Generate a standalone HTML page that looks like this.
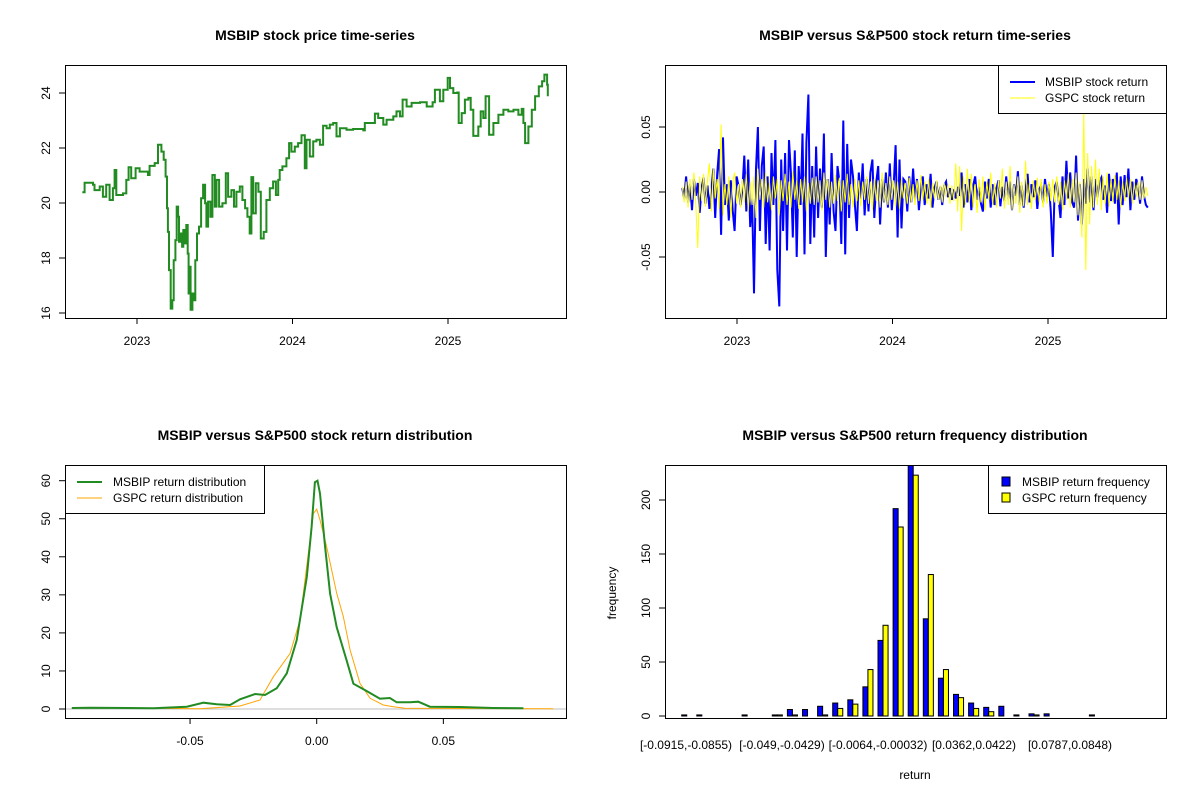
<!DOCTYPE html>
<html><head><meta charset="utf-8"><style>
html,body{margin:0;padding:0;background:#fff;}
svg{display:block;font-family:"Liberation Sans",Arial,sans-serif;}
</style></head><body>
<svg id="chart" width="1200" height="800" viewBox="0 0 1200 800"></svg>
<script>
// ---------- data ----------
const priceDates=[2022.648,2022.663,2022.717,2022.727,2022.760,2022.781,2022.802,2022.824,2022.845,2022.856,2022.867,2022.910,2022.931,2022.946,2022.963,2022.991,2023.017,2023.071,2023.081,2023.114,2023.135,2023.157,2023.172,2023.184,2023.193,2023.199,2023.206,2023.217,2023.227,2023.236,2023.247,2023.255,2023.264,2023.270,2023.279,2023.290,2023.298,2023.309,2023.317,2023.326,2023.332,2023.339,2023.345,2023.356,2023.367,2023.375,2023.386,2023.399,2023.412,2023.425,2023.438,2023.446,2023.457,2023.472,2023.485,2023.500,2023.511,2023.528,2023.549,2023.571,2023.586,2023.607,2023.624,2023.639,2023.661,2023.678,2023.695,2023.710,2023.725,2023.736,2023.747,2023.764,2023.781,2023.796,2023.815,2023.832,2023.854,2023.875,2023.893,2023.908,2023.918,2023.935,2023.961,2023.978,2023.993,2024.015,2024.036,2024.058,2024.079,2024.090,2024.111,2024.133,2024.154,2024.176,2024.197,2024.219,2024.240,2024.262,2024.283,2024.305,2024.347,2024.390,2024.455,2024.465,2024.498,2024.530,2024.551,2024.584,2024.605,2024.648,2024.669,2024.691,2024.708,2024.734,2024.766,2024.820,2024.863,2024.901,2024.916,2024.948,2024.970,2024.998,2025.013,2025.034,2025.060,2025.069,2025.088,2025.109,2025.131,2025.146,2025.163,2025.195,2025.210,2025.227,2025.242,2025.264,2025.292,2025.324,2025.356,2025.388,2025.421,2025.453,2025.474,2025.485,2025.496,2025.517,2025.539,2025.560,2025.584,2025.605,2025.620,2025.637,2025.642];
const prices=[20.39,20.74,20.66,20.47,20.60,20.23,20.66,20.11,20.54,21.20,20.29,20.35,20.84,21.30,20.90,21.26,21.14,21.02,21.35,21.45,22.12,21.87,21.57,20.96,19.81,18.95,17.56,16.16,16.46,17.92,18.65,19.87,19.50,18.59,18.89,18.41,19.02,18.53,19.20,18.16,16.71,17.68,16.12,16.71,16.46,17.92,18.89,19.14,20.17,20.66,19.99,19.14,20.05,19.50,21.02,19.87,20.84,19.87,19.99,21.08,20.23,20.47,19.87,20.41,20.60,20.11,19.81,19.50,18.89,20.94,19.62,20.72,20.41,18.71,18.95,20.11,20.54,20.78,20.29,20.84,21.20,21.33,21.63,22.18,21.87,22.05,22.18,22.46,21.26,22.30,21.69,22.24,22.30,22.12,22.81,22.72,22.85,22.91,22.42,22.72,22.66,22.69,22.64,22.91,22.91,23.25,23.09,22.85,23.03,23.15,23.33,23.15,23.76,23.51,23.64,23.66,23.51,23.66,24.12,23.70,24.12,24.55,24.18,24.00,24.02,22.91,23.27,23.76,23.82,23.39,22.44,22.78,23.33,23.09,23.88,22.48,22.91,23.21,23.39,23.33,23.39,23.21,23.42,22.91,22.18,22.78,23.39,23.88,24.24,24.43,24.67,24.30,23.88];
const returnStart=2022.648, returnEnd=2025.642;
// returns in units of 0.001
const msbipReturns=[3,-5,12,-8,6,-14,10,-3,7,-16,4,11,-9,5,-13,2,18,-20,14,33,-33,42,-10,6,-22,9,-14,-30,12,
5,-10,2,28,-15,25,-27,-5,-78,18,50,-30,20,35,-40,12,-45,30,-10,40,-60,-88,25,-30,30,-45,40,15,-35,32,-50,20,-10,45,-48,38,75,-40,20,
-35,35,-20,18,-12,45,-50,10,-25,30,-15,-30,20,8,-40,55,-48,37,-20,25,12,-10,-30,15,-5,22,-18,
10,-15,15,25,-20,8,20,-25,10,-8,15,-12,22,-14,5,36,-35,25,-28,10,8,-15,12,-8,18,-6,10,-14,4,12,-10,6,-5,14,-12,3,8,
-6,4,-10,5,8,-4,3,-6,2,-5,4,-3,15,-12,6,-8,10,-14,5,12,-6,4,-9,-15,8,-5,10,-12,6,-10,3,9,-11,4,-7,12,-5,8,-14,6,-3,16,-10,5,-12,3,14,-8,6,-4,9,-13,2,5,-8,10,-4,6,-15,
-50,4,8,-6,-20,12,-10,24,-5,15,-8,-12,28,-22,6,-25,10,-9,18,-8,12,-14,10,-4,8,11,-6,5,-16,14,-7,10,-9,15,-25,12,-10,13,-4,18,-14,8,-6,10,5,-9,12,-3,-10,-12];
const gspcReturns=[4,-8,8,-12,10,-6,15,-10,-43,12,-7,14,-11,9,22,-15,18,-5,10,-13,52,-18,6,-10,12,-20,8,15,-9,
6,-12,10,-8,14,-15,8,-10,12,-20,18,-6,10,-12,15,-8,7,-14,12,-5,10,-18,9,-7,14,-10,8,-12,16,-6,9,-13,10,-8,12,-15,7,-9,11,
-10,12,-8,9,-14,15,-6,10,-12,8,-9,13,-7,11,-15,9,-8,14,-10,6,-12,10,-7,9,-11,8,-6,
12,-9,8,-14,10,-7,9,-12,15,-8,7,-10,12,-6,9,-11,8,-13,10,-5,7,-9,11,-8,6,-10,9,-7,13,-6,8,-9,10,-12,7,-5,9,
-6,5,-8,7,-4,6,-9,5,-7,22,-15,20,-30,12,-10,18,-8,14,-12,6,-16,10,-8,12,-14,8,-6,15,-10,7,-12,9,-5,18,-13,8,-10,20,-14,6,-9,12,-16,8,-11,24,-10,7,-13,9,-6,11,-8,10,-12,6,-9,8,-7,
10,-8,12,-10,8,-14,9,-6,14,-12,10,-8,15,-18,8,-35,60,-60,30,-25,20,-12,25,-10,18,-14,12,-9,15,-11,10,-8,13,-6,9,-12,8,-7,11,-5,10,-9,7,-4,8,-6,9,-5,4,-3];
const msbipDensX=[-0.0967,-0.0895,-0.0645,-0.0513,-0.0447,-0.0395,-0.0342,-0.0303,-0.0243,-0.0204,-0.0158,-0.0118,-0.0079,-0.0039,-0.0020,-0.0007,0.0003,0.0013,0.0033,0.0053,0.0079,0.0118,0.0145,0.0197,0.0250,0.0289,0.0316,0.0368,0.0401,0.0447,0.0566,0.0697,0.0816];
const msbipDensY=[0.26,0.35,0.18,0.61,1.66,1.23,1.05,2.54,3.94,3.68,5.43,9.37,18.1,34.7,47.8,59.6,60.0,56.6,42.6,30.3,21.5,12.8,6.66,4.73,2.71,2.89,1.75,1.75,1.93,0.61,0.53,0.26,0.18];
const gspcDensX=[-0.0645,-0.0461,-0.0303,-0.0224,-0.0171,-0.0105,-0.0066,-0.0033,-0.0013,0,0.0013,0.0039,0.0079,0.0105,0.0132,0.0171,0.0211,0.0263,0.0303,0.0349,0.0934];
const gspcDensY=[0.18,0.09,0.79,2.36,8.49,14.6,23.4,40.9,51.4,52.5,49.7,42.7,30.4,24.3,15.5,6.74,2.80,1.05,0.61,0.18,0.09];
const histMsbip=[1,1,0,0,1,0,1,6,6,9,12,15,27,70,192,235,90,35,20,12,8,9,1,2,2,0,0,1,0,0];
const histGspc=[0,0,0,0,0,0,1,1,0,1,7,11,43,84,175,223,131,43,17,7,4,0,0,1,0,0,0,0,0,0];
const histLabels=["[-0.0915,-0.0855)","[-0.049,-0.0429)","[-0.0064,-0.00032)","[0.0362,0.0422)","[0.0787,0.0848)"];
const yearTicks=[2023,2024,2025];
const priceTicks=[16,18,20,22,24];
const returnTicks=[-0.05,0,0.05];
const densYTicks=[0,10,20,30,40,50,60];
const densXTicks=[-0.05,0,0.05];
const histYTicks=[0,50,100,150,200];

// ---------- helpers ----------
const svg=document.getElementById('chart');
const NS='http://www.w3.org/2000/svg';
function mk(tag,attrs,parent){const e=document.createElementNS(NS,tag);for(const k in attrs)e.setAttribute(k,attrs[k]);(parent||svg).appendChild(e);return e;}
function txt(s,x,y,attrs,parent){const e=mk('text',Object.assign({x:x,y:y,'font-size':12,fill:'#000','text-anchor':'middle'},attrs||{}),parent);e.textContent=s;return e;}

// ---------- panel 1 ----------
const g1=mk('g',{});


const t1=txt('MSBIP stock price time-series',315,40,{'font-size':14,'font-weight':'bold'},g1);


const xT=t=>137+(t-2023)*155.5;
const yP=v=>313-(v-16)*27.5;
const b1=mk('rect',{x:65.5,y:65.5,width:501,height:253,fill:'none',stroke:'#000'},g1);


yearTicks.forEach(y=>{const x=xT(y);mk('line',{x1:x,x2:x,y1:318,y2:324,stroke:'#000'},g1);const l=txt(String(y),x,345,{},g1);});
priceTicks.forEach(v=>{const y=yP(v);mk('line',{x1:59,x2:65,y1:y,y2:y,stroke:'#000'},g1);const l=txt(String(v),50,y,{transform:`rotate(-90 50 ${y})`},g1);});
let stepPts=[];
priceDates.forEach((d,i)=>{const x=xT(d).toFixed(1);if(i>0)stepPts.push(x+','+yP(prices[i-1]).toFixed(1));stepPts.push(x+','+yP(prices[i]).toFixed(1));});
const pl=mk('polyline',{points:stepPts.join(' '),fill:'none',stroke:'#228B22','stroke-width':2},g1);



// ---------- panel 2 ----------
const g2=mk('g',{});


const t2=txt('MSBIP versus S&P500 stock return time-series',915,40,{'font-size':14,'font-weight':'bold'},g2);


const xT2=t=>737+(t-2023)*155.5;
const yR=v=>192-v*1300;
yearTicks.forEach(y=>{const x=xT2(y);mk('line',{x1:x,x2:x,y1:318,y2:324,stroke:'#000'},g2);const l=txt(String(y),x,345,{},g2);});
returnTicks.forEach(v=>{const y=yR(v);mk('line',{x1:659,x2:665,y1:y,y2:y,stroke:'#000'},g2);const l=txt(v.toFixed(2),650,y,{transform:`rotate(-90 650 ${y})`},g2);});
function retLine(arr,color,w){const n=arr.length;const pts=arr.map((v,i)=>{const t=returnStart+i*(returnEnd-returnStart)/(n-1);return xT2(t).toFixed(1)+','+yR(v/1000).toFixed(1);}).join(' ');const p=mk('polyline',{points:pts,fill:'none',stroke:color,'stroke-width':w},g2);return p;}
const rl1=retLine(msbipReturns,'#0000FF',2);


const rl2=retLine(gspcReturns,'#FFFF00',1);


mk('rect',{x:665.5,y:65.5,width:501,height:253,fill:'none',stroke:'#000'},g2);
const lg2=mk('g',{},g2);


mk('rect',{x:998.5,y:65.5,width:168,height:48,fill:'#fff',stroke:'#000'},lg2);
mk('line',{x1:1010,x2:1035,y1:82,y2:82,stroke:'#0000FF','stroke-width':2},lg2);
mk('line',{x1:1010,x2:1035,y1:98,y2:98,stroke:'#FFFF00','stroke-width':1},lg2);
txt('MSBIP stock return',1045,86,{'text-anchor':'start'},lg2);
txt('GSPC stock return',1045,102,{'text-anchor':'start'},lg2);

// ---------- panel 3 ----------
const g3=mk('g',{});


const t3=txt('MSBIP versus S&P500 stock return distribution',315,440,{'font-size':14,'font-weight':'bold'},g3);


const xD=v=>316.7+v*2533;
const yD=v=>709-v*3.805;
mk('line',{x1:66,x2:566,y1:yD(0),y2:yD(0),stroke:'#bebebe'},g3);
densXTicks.forEach(v=>{const x=xD(v);mk('line',{x1:x,x2:x,y1:718,y2:724,stroke:'#000'},g3);const l=txt(v.toFixed(2),x,745,{},g3);});
densYTicks.forEach(v=>{const y=yD(v);mk('line',{x1:59,x2:65,y1:y,y2:y,stroke:'#000'},g3);const l=txt(String(v),50,y,{transform:`rotate(-90 50 ${y})`},g3);});
const dg=mk('polyline',{points:gspcDensX.map((x,i)=>xD(x).toFixed(1)+','+yD(gspcDensY[i]).toFixed(1)).join(' '),fill:'none',stroke:'#FFA500','stroke-width':1},g3);


const dm=mk('polyline',{points:msbipDensX.map((x,i)=>xD(x).toFixed(1)+','+yD(msbipDensY[i]).toFixed(1)).join(' '),fill:'none',stroke:'#228B22','stroke-width':2},g3);


mk('rect',{x:65.5,y:465.5,width:501,height:253,fill:'none',stroke:'#000'},g3);
const lg3=mk('g',{},g3);


mk('rect',{x:65.5,y:465.5,width:199,height:48,fill:'#fff',stroke:'#000'},lg3);
mk('line',{x1:77,x2:102,y1:482,y2:482,stroke:'#228B22','stroke-width':2},lg3);
mk('line',{x1:77,x2:102,y1:498,y2:498,stroke:'#FFA500','stroke-width':1},lg3);
txt('MSBIP return distribution',113,486,{'text-anchor':'start'},lg3);
txt('GSPC return distribution',113,502,{'text-anchor':'start'},lg3);

// ---------- panel 4 ----------
const g4=mk('g',{});


const t4=txt('MSBIP versus S&P500 return frequency distribution',915,440,{'font-size':14,'font-weight':'bold'},g4);


const yH=v=>716-v*1.08;
const groupX=i=>681.7+i*15.1;
const barW=5.03;
const clip=mk('clipPath',{id:'hclip'},g4);
mk('rect',{x:665,y:465,width:502,height:254},clip);
const bars=mk('g',{'clip-path':'url(#hclip)'},g4);
histMsbip.forEach((v,i)=>{const r=mk('rect',{x:groupX(i),y:yH(v),width:barW,height:Math.max(0,v*1.08),fill:'#0000FF',stroke:'#000','stroke-width':1},bars);});
histGspc.forEach((v,i)=>{const r=mk('rect',{x:groupX(i)+barW,y:yH(v),width:barW,height:Math.max(0,v*1.08),fill:'#FFFF00',stroke:'#000','stroke-width':1},bars);});
histYTicks.forEach(v=>{const y=yH(v);mk('line',{x1:659,x2:665,y1:y,y2:y,stroke:'#000'},g4);const l=txt(String(v),650,y,{transform:`rotate(-90 650 ${y})`},g4);});
histLabels.forEach((s,k)=>{const l=txt(s,686+k*96,749,{},g4);});
mk('rect',{x:665.5,y:465.5,width:501,height:253,fill:'none',stroke:'#000'},g4);
const ylab=txt('frequency',616,593,{transform:'rotate(-90 616 593)'},g4);


const xlab=txt('return',915,779,{},g4);


const lg4=mk('g',{},g4);


mk('rect',{x:988.5,y:465.5,width:178,height:48,fill:'#fff',stroke:'#000'},lg4);
mk('rect',{x:1002,y:477,width:8,height:9,fill:'#0000FF',stroke:'#000'},lg4);
mk('rect',{x:1002,y:493,width:8,height:9,fill:'#FFFF00',stroke:'#000'},lg4);
txt('MSBIP return frequency',1022,486,{'text-anchor':'start'},lg4);
txt('GSPC return frequency',1022,502,{'text-anchor':'start'},lg4);
</script>
</body></html>
